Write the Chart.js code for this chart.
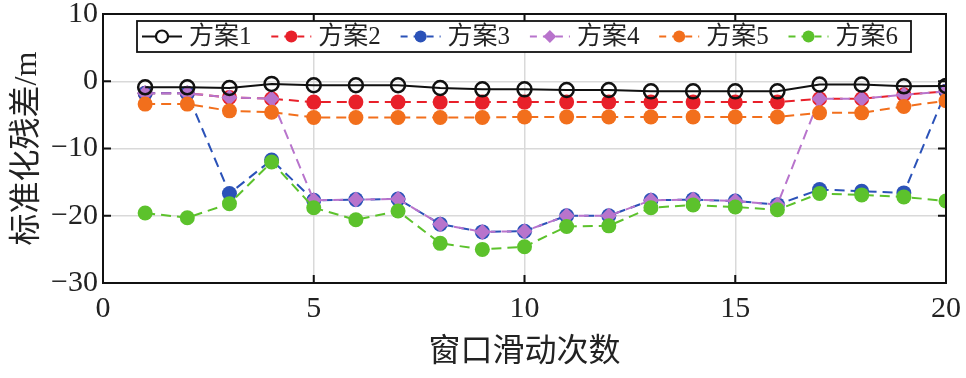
<!DOCTYPE html>
<html>
<head>
<meta charset="utf-8">
<script src="https://cdn.jsdelivr.net/npm/chart.js@4/dist/chart.umd.min.js"></script>
<style>
  html, body { margin: 0; padding: 0; background: #fff; }
  #wrap { width: 966px; height: 378px; }
</style>
</head>
<body>
<div id="wrap"><canvas id="c" width="966" height="378"></canvas></div>
<script>
const xValues = [1,2,3,4,5,6,7,8,9,10,11,12,13,14,15,16,17,18,19,20];
const seriesNames = ['方案1','方案2','方案3','方案4','方案5','方案6'];
const scheme1 = [-0.9,-0.9,-1.0,-0.4,-0.6,-0.6,-0.6,-1.0,-1.2,-1.2,-1.3,-1.3,-1.5,-1.5,-1.5,-1.5,-0.5,-0.5,-0.75,-0.7];
const scheme2 = [-1.8,-1.8,-2.4,-2.6,-3.1,-3.1,-3.1,-3.1,-3.1,-3.1,-3.1,-3.1,-3.1,-3.1,-3.1,-3.1,-2.6,-2.6,-2.0,-1.5];
const scheme3 = [-1.8,-1.8,-16.7,-11.7,-17.7,-17.6,-17.5,-21.25,-22.4,-22.3,-20.0,-20.0,-17.7,-17.6,-17.8,-18.35,-16.1,-16.35,-16.6,-1.5];
const scheme4 = [-1.8,-1.8,-2.4,-2.6,-17.7,-17.6,-17.5,-21.25,-22.4,-22.3,-20.0,-20.0,-17.7,-17.6,-17.8,-18.35,-2.6,-2.6,-2.0,-1.5];
const scheme5 = [-3.4,-3.4,-4.4,-4.6,-5.4,-5.4,-5.4,-5.4,-5.4,-5.3,-5.3,-5.3,-5.3,-5.3,-5.3,-5.3,-4.7,-4.7,-3.75,-2.9];
const scheme6 = [-19.6,-20.3,-18.2,-12.0,-18.8,-20.6,-19.3,-24.1,-25.0,-24.6,-21.6,-21.5,-18.8,-18.4,-18.7,-19.1,-16.7,-16.9,-17.2,-17.8];
const xTicks = [0,5,10,15,20];
const yTicks = [-30,-20,-10,0,10];
const xTitle = '窗口滑动次数';
const yTitle = '标准化残差/m';

const allValues = [scheme1, scheme2, scheme3, scheme4, scheme5, scheme6];
const colors = ['#111111','#e8202a','#2b52b8','#b874cc','#f26f1c','#5cc22c'];
const styles = [
  {dash: [], point: 'circle', fill: 'rgba(0,0,0,0)', r: 7, bw: 2.5},
  {dash: [10,6], point: 'circle', r: 7.5, bw: 0},
  {dash: [10,6], point: 'circle', r: 7.5, bw: 0},
  {dash: [10,6], point: 'rectRot', r: 8, bw: 0},
  {dash: [10,6], point: 'circle', r: 7.5, bw: 0},
  {dash: [10,6], point: 'circle', r: 7.5, bw: 0}
];
const drawOrder = [0, 6, 5, 4, 3, 2]; // lower = on top

const datasets = seriesNames.map((name, i) => ({
  label: name,
  data: xValues.map((x, k) => ({x: x, y: allValues[i][k]})),
  borderColor: colors[i],
  backgroundColor: styles[i].fill || colors[i],
  pointBackgroundColor: styles[i].fill || colors[i],
  pointBorderColor: colors[i],
  pointBorderWidth: styles[i].bw,
  pointRadius: styles[i].r,
  pointStyle: styles[i].point,
  borderWidth: 2,
  borderDash: styles[i].dash,
  order: drawOrder[i],
  tension: 0
}));

const FONT_FAMILY = "'Liberation Serif', 'Noto Sans CJK SC', serif";

const framePlugin = {
  id: 'frame',
  afterDatasetsDraw(chart) {
    const {ctx, chartArea: a, scales} = chart;
    ctx.save();
    ctx.strokeStyle = '#111';
    ctx.lineWidth = 2;
    const tl = 8;
    ctx.beginPath();
    xTicks.forEach(v => {
      const px = scales.x.getPixelForValue(v);
      ctx.moveTo(px, a.bottom); ctx.lineTo(px, a.bottom - tl);
      ctx.moveTo(px, a.top); ctx.lineTo(px, a.top + tl);
    });
    yTicks.forEach(v => {
      const py = scales.y.getPixelForValue(v);
      ctx.moveTo(a.left, py); ctx.lineTo(a.left + tl, py);
      ctx.moveTo(a.right, py); ctx.lineTo(a.right - tl, py);
    });
    ctx.stroke();
    ctx.strokeRect(a.left, a.top, a.right - a.left, a.bottom - a.top);

    // legend inside plot
    const bx = 137, by = 21, bw = 774, bh = 31;
    ctx.fillStyle = '#fff';
    ctx.fillRect(bx, by, bw, bh);
    ctx.lineWidth = 1.8;
    ctx.strokeStyle = '#111';
    ctx.strokeRect(bx, by, bw, bh);
    const cy = by + bh / 2;
    chart.data.datasets.forEach((ds, i) => {
      const x0 = 142 + i * 129.3;
      ctx.save();
      ctx.strokeStyle = ds.borderColor;
      ctx.lineWidth = 2;
      ctx.setLineDash(ds.borderDash.length ? [7, 6] : []);
      ctx.beginPath();
      ctx.moveTo(x0, cy); ctx.lineTo(x0 + 40, cy);
      ctx.stroke();
      ctx.setLineDash([]);
      const mx = x0 + 20;
      if (ds.pointStyle === 'rectRot') {
        const r = 6.5;
        ctx.fillStyle = ds.pointBackgroundColor;
        ctx.beginPath();
        ctx.moveTo(mx, cy - r); ctx.lineTo(mx + r, cy); ctx.lineTo(mx, cy + r); ctx.lineTo(mx - r, cy); ctx.closePath();
        ctx.fill();
      } else {
        ctx.beginPath();
        ctx.arc(mx, cy, 6, 0, Math.PI * 2);
        if (ds.pointBorderWidth > 0) {
          ctx.fillStyle = '#fff'; ctx.fill();
          ctx.lineWidth = 2.2; ctx.strokeStyle = ds.borderColor; ctx.stroke();
        } else {
          ctx.fillStyle = ds.pointBackgroundColor; ctx.fill();
        }
      }
      ctx.fillStyle = '#222';
      ctx.font = "25px " + FONT_FAMILY;
      ctx.textBaseline = 'middle';
      ctx.textAlign = 'left';
      ctx.fillText(ds.label, x0 + 47, cy + 1);
      ctx.restore();
    });
    ctx.restore();
  }
};

new Chart(document.getElementById('c'), {
  type: 'line',
  data: { datasets },
  plugins: [framePlugin],
  options: {
    responsive: false,
    animation: false,
    layout: { padding: { left: 0, right: 20, top: 14, bottom: 0 } },
    plugins: { legend: { display: false }, tooltip: { enabled: false } },
    scales: {
      x: {
        type: 'linear', min: 0, max: 20,
        afterBuildTicks: s => { s.ticks = xTicks.map(v => ({value: v})); },
        afterFit: s => { s.height = 95; s.paddingLeft = 0; s.paddingRight = 0; },
        grid: { color: '#d9d9d9', lineWidth: 1.5, drawTicks: false },
        border: { display: false },
        ticks: { color: '#222', padding: 8, font: { size: 30, family: FONT_FAMILY }, maxRotation: 0 },
        title: { display: true, text: xTitle, color: '#222', font: { size: 32, family: FONT_FAMILY }, padding: { top: 0, bottom: 6 } }
      },
      y: {
        type: 'linear', min: -30, max: 10,
        afterBuildTicks: s => { s.ticks = yTicks.map(v => ({value: v})); },
        afterFit: s => { s.width = 103; s.paddingTop = 0; s.paddingBottom = 0; },
        grid: { color: '#d9d9d9', lineWidth: 1.5, drawTicks: false },
        border: { display: false },
        ticks: { color: '#222', padding: 5, font: { size: 30, family: FONT_FAMILY },
          callback: v => String(v).replace('-', '\u2212') },
        title: { display: true, text: yTitle, color: '#222', font: { size: 32, family: FONT_FAMILY }, padding: { top: 8, bottom: 0 } }
      }
    }
  }
});
</script>
</body>
</html>
